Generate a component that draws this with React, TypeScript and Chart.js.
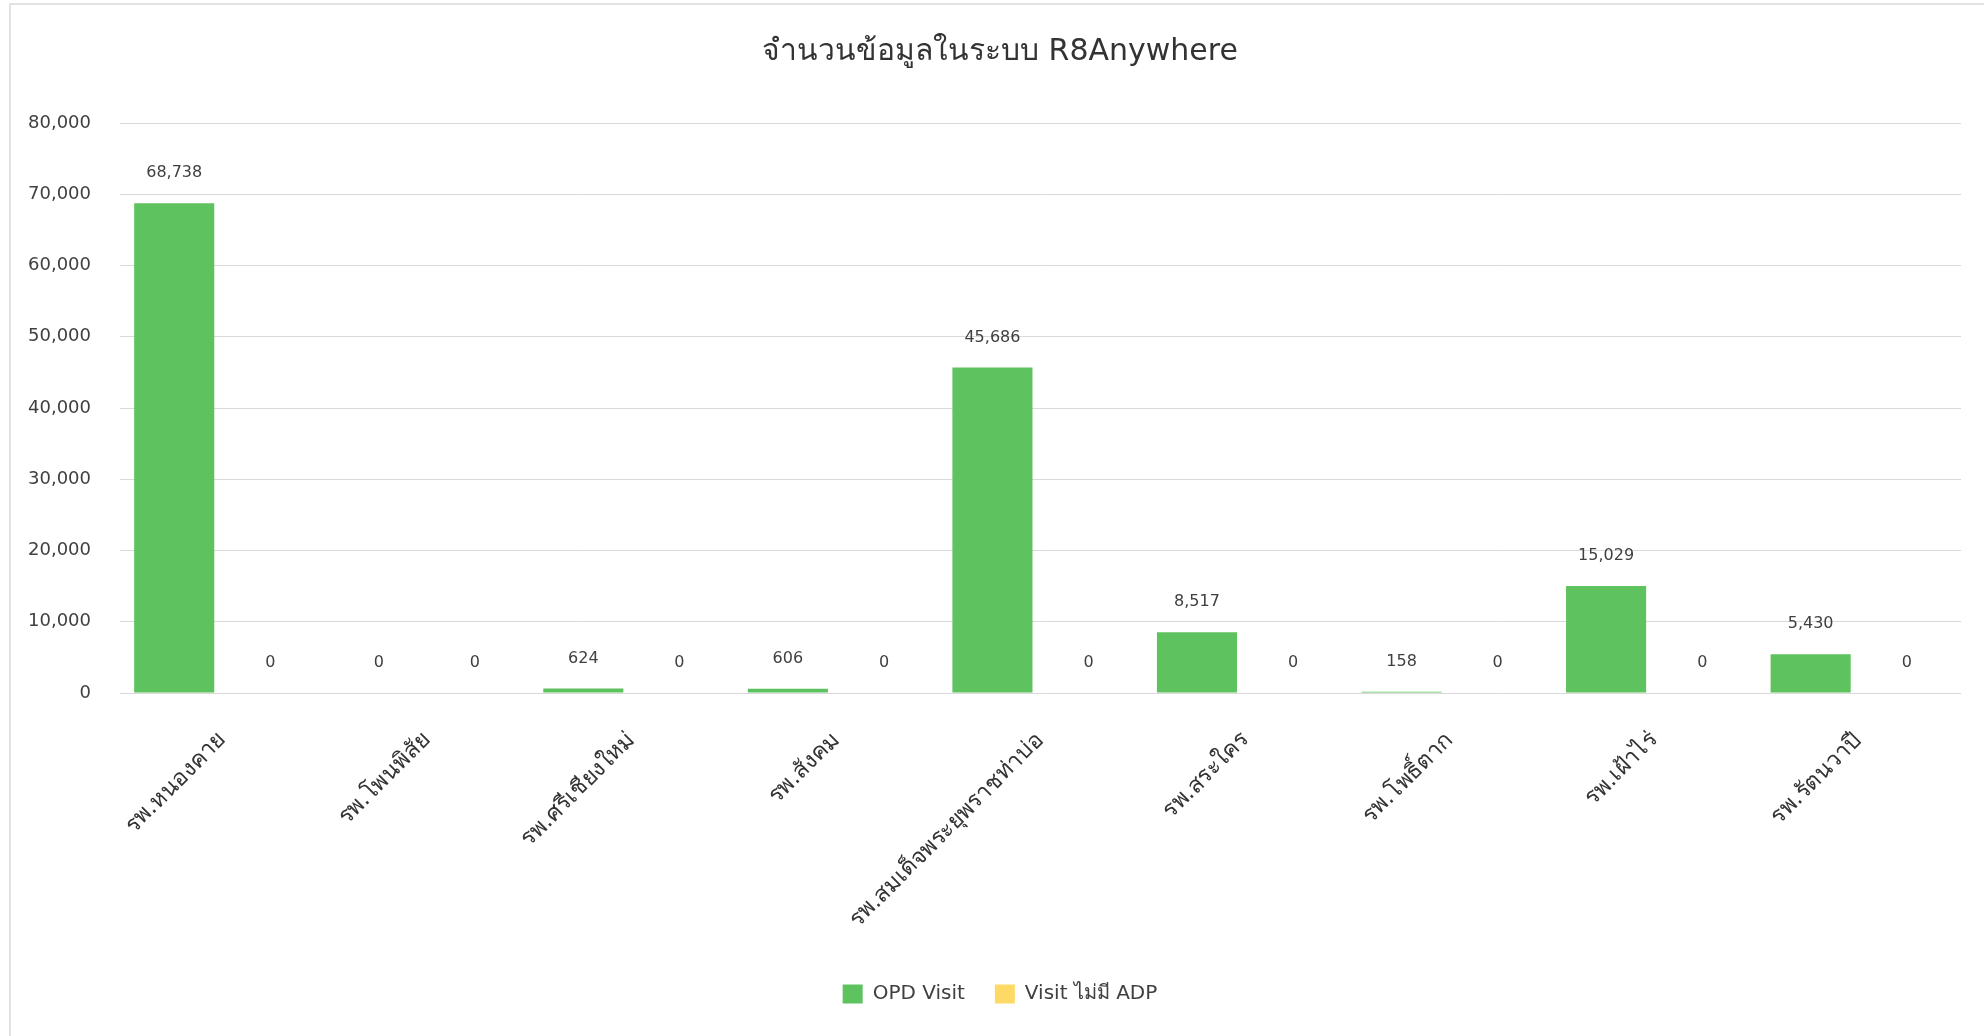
import React, { useEffect, useRef } from "react";
import { Chart, registerables } from "chart.js";

Chart.register(...registerables);

const TITLE = "จำนวนข้อมูลในระบบ R8Anywhere";
const categories = [
  "รพ.หนองคาย",
  "รพ.โพนพิสัย",
  "รพ.ศรีเชียงใหม่",
  "รพ.สังคม",
  "รพ.สมเด็จพระยุพราชท่าบ่อ",
  "รพ.สระใคร",
  "รพ.โพธิ์ตาก",
  "รพ.เฝ้าไร่",
  "รพ.รัตนวาปี",
];
const opdVisit = [68738, 0, 624, 606, 45686, 8517, 158, 15029, 5430];
const visitNoAdp = [0, 0, 0, 0, 0, 0, 0, 0, 0];
const seriesNames = ["OPD Visit", "Visit ไม่มี ADP"];
const yMin = 0;
const yMax = 80000;
const yStep = 10000;

const FONT = "'DejaVu Sans', 'Noto Sans', sans-serif";
const fmt = (v: number) => v.toLocaleString("en-US");

const dataLabels = {
  id: "dataLabels",
  afterDatasetsDraw(chart: any) {
    const ctx = chart.ctx;
    ctx.save();
    ctx.font = `16px ${FONT}`;
    ctx.fillStyle = "#404040";
    ctx.textAlign = "center";
    ctx.textBaseline = "middle";
    chart.data.datasets.forEach((ds: any, di: number) => {
      const meta = chart.getDatasetMeta(di);
      meta.data.forEach((el: any, i: number) => {
        ctx.fillText(fmt(ds.data[i]), el.x, el.y - 30);
      });
    });
    ctx.restore();
  },
};

// let the y tick labels use the space left of the y scale box (no clipping)
const unclipY = {
  id: "unclipY",
  afterLayout(chart: any) {
    const y = chart.scales.y;
    if (y) y.left = 0;
  },
};

export default function App() {
  const ref = useRef<HTMLCanvasElement | null>(null);
  useEffect(() => {
    document.body.style.margin = "0";
    const chart = new Chart(ref.current as HTMLCanvasElement, {
      type: "bar",
      data: {
        labels: categories,
        datasets: [
          {
            label: seriesNames[0],
            data: opdVisit,
            backgroundColor: "#5EC25E",
            categoryPercentage: 0.94,
            barPercentage: 0.833,
          },
          {
            label: seriesNames[1],
            data: visitNoAdp,
            backgroundColor: "#FFD966",
            categoryPercentage: 0.94,
            barPercentage: 0.833,
          },
        ],
      },
      options: {
        animation: false,
        responsive: false,
        maintainAspectRatio: false,
        layout: { padding: { top: 34, left: 39, right: 23, bottom: 22 } },
        plugins: {
          title: {
            display: true,
            text: TITLE,
            color: "#333333",
            font: { family: FONT, size: 30, weight: "normal", lineHeight: 1.2 },
            padding: { top: 0, bottom: 53 },
          },
          legend: {
            position: "bottom",
            labels: {
              color: "#404040",
              font: { family: FONT, size: 20 },
              boxWidth: 20,
              boxHeight: 19,
              padding: 30,
            },
          },
          tooltip: { enabled: false },
        },
        scales: {
          x: {
            grid: { display: false },
            border: { display: false },
            ticks: {
              color: "#333333",
              font: { family: FONT, size: 23 },
              minRotation: 45,
              maxRotation: 45,
              padding: 26,
            },
            afterFit: (s: any) => {
              s.height = 261;
            },
          },
          y: {
            min: yMin,
            max: yMax,
            border: { display: false },
            grid: { color: "#d9d9d9", lineWidth: 1, drawTicks: false },
            ticks: {
              stepSize: yStep,
              color: "#404040",
              font: { family: FONT, size: 18 },
              padding: 29,
              callback: (v: any) => fmt(Number(v)),
            },
            afterFit: (s: any) => {
              s.width = 81;
            },
          },
        },
      },
      plugins: [dataLabels, unclipY],
    } as any);
    return () => chart.destroy();
  }, []);

  return (
    <div
      style={{
        position: "fixed",
        left: 0,
        top: 0,
        width: 1984,
        height: 1036,
        background: "#ffffff",
        overflow: "hidden",
      }}
    >
      <div
        style={{
          position: "absolute",
          left: 9,
          top: 3,
          width: 2100,
          height: 1100,
          borderLeft: "2px solid #e2e2e2",
          borderTop: "2px solid #e2e2e2",
        }}
      />
      <canvas
        ref={ref}
        width={1984}
        height={1036}
        style={{ position: "absolute", left: 0, top: 0, width: 1984, height: 1036 }}
      />
    </div>
  );
}
